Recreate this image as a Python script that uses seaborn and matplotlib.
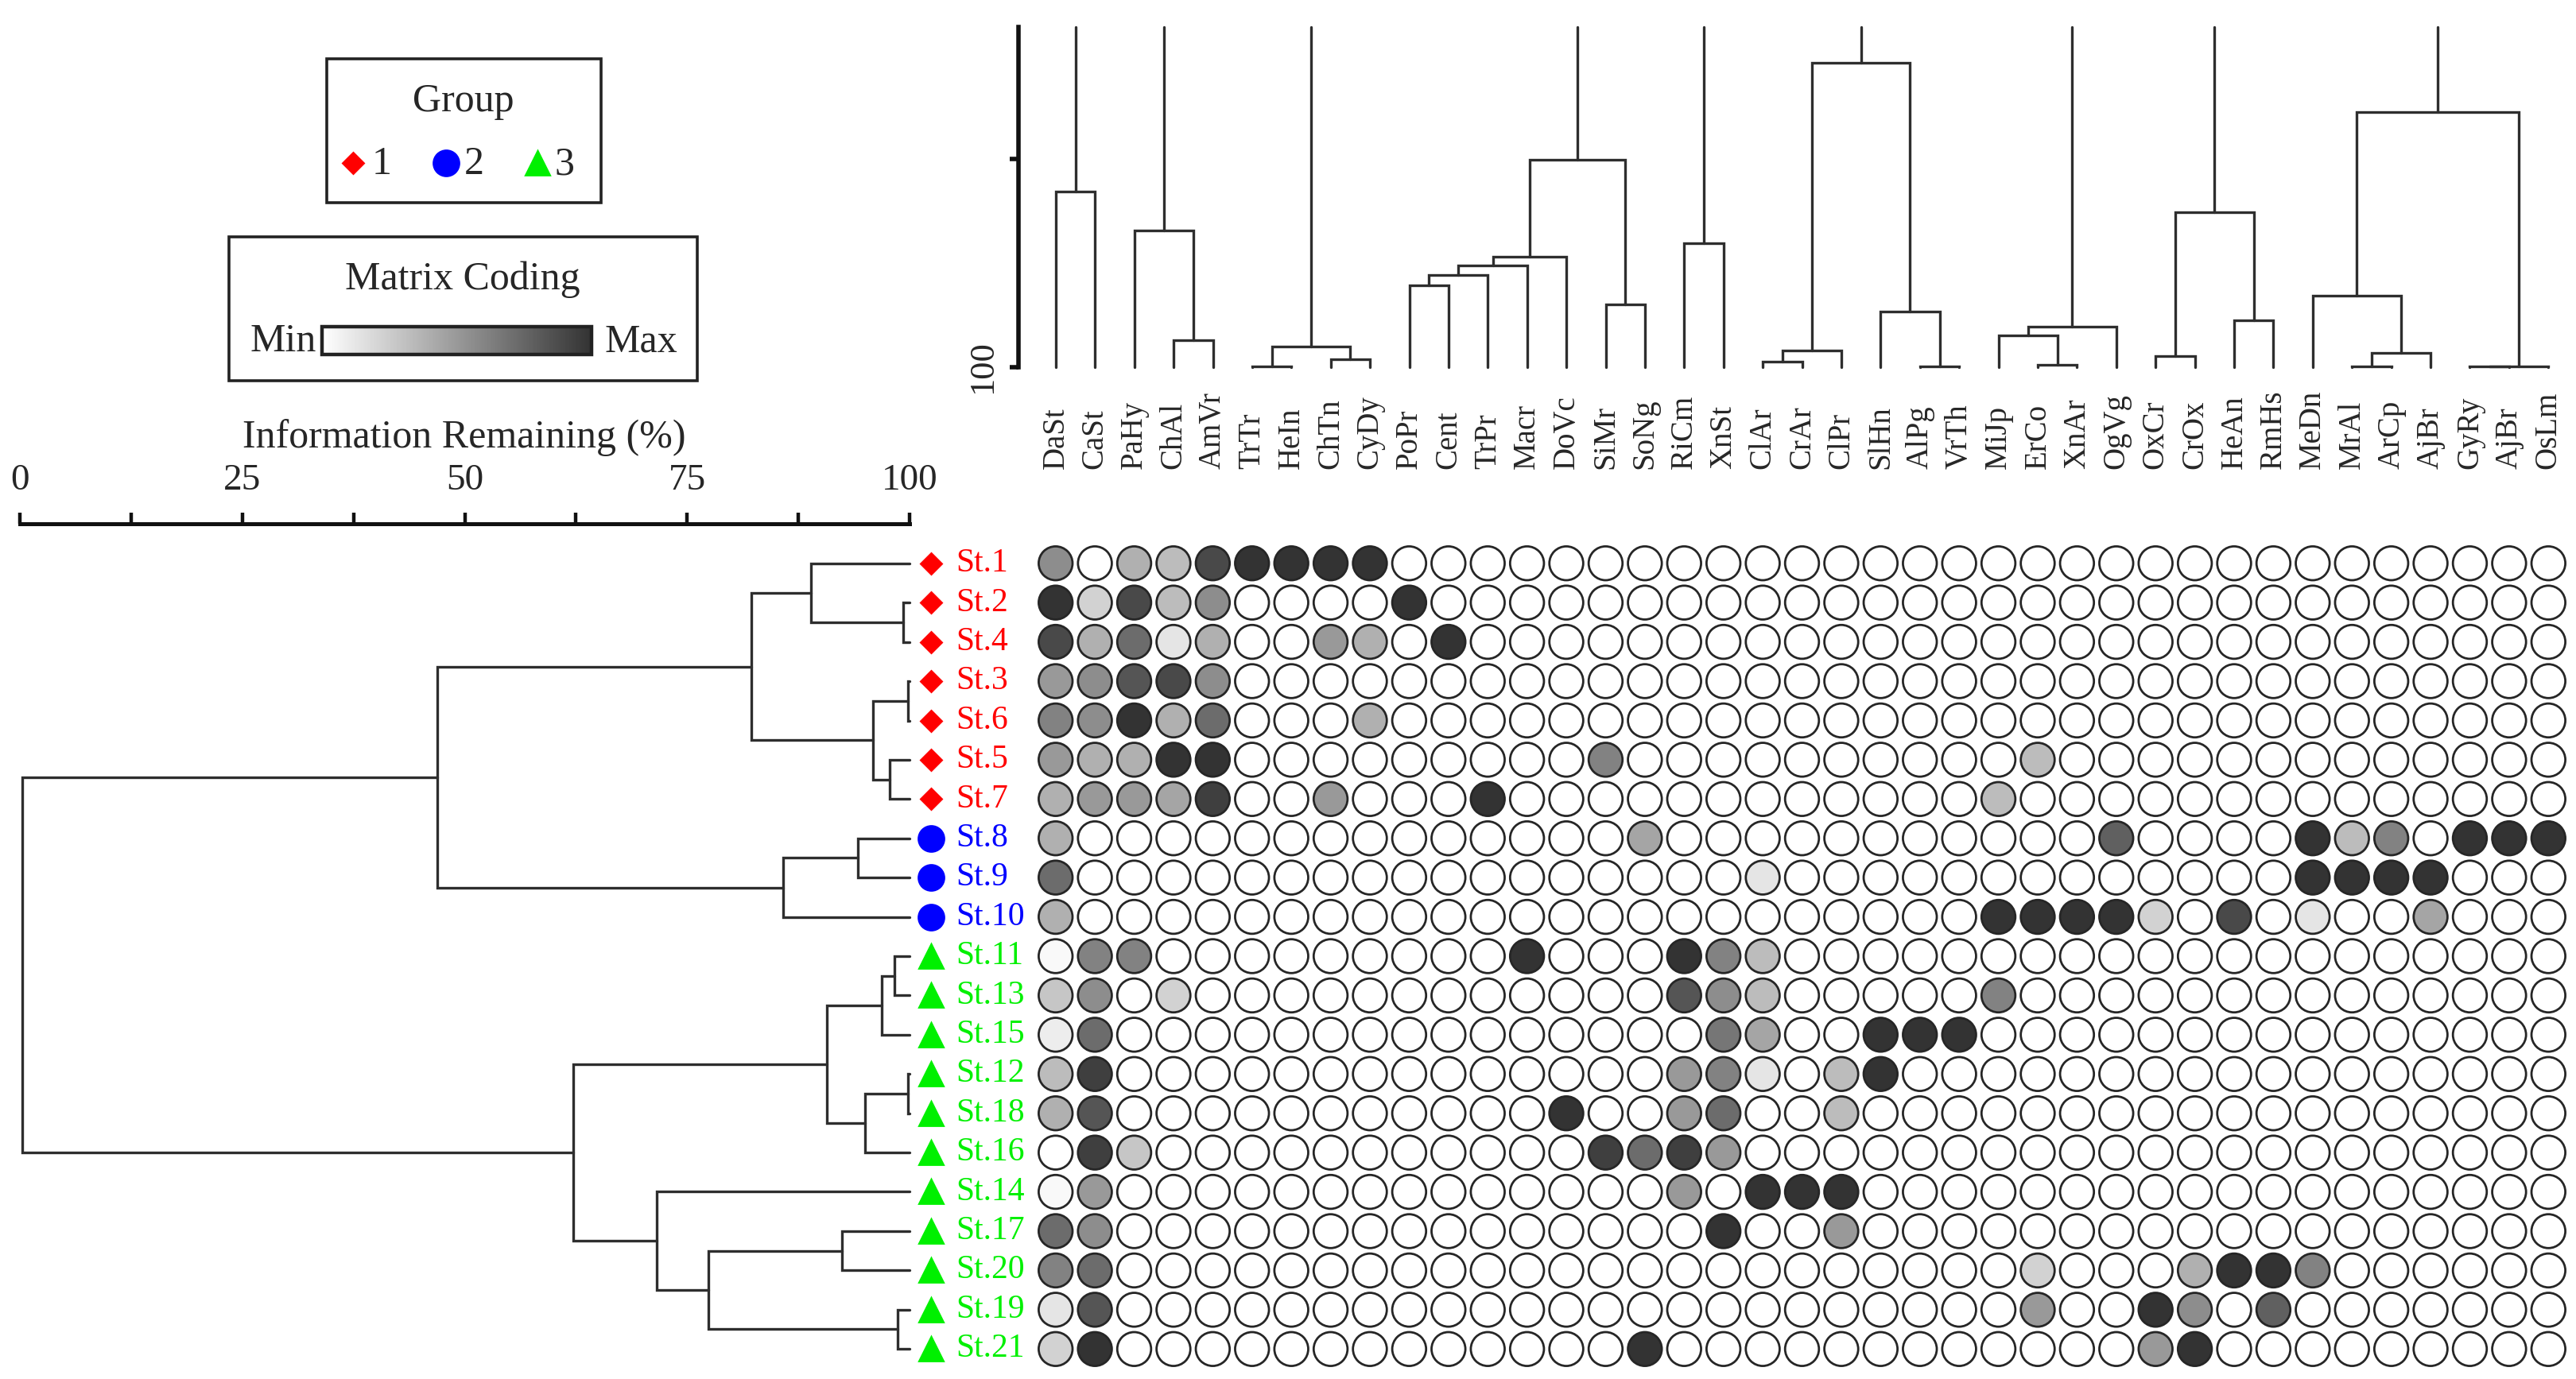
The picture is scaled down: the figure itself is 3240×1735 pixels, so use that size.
import numpy as np
import pandas as pd
import matplotlib
matplotlib.use("Agg")
import matplotlib.pyplot as plt
import matplotlib.transforms as mtransforms
import seaborn as sns
from matplotlib.colors import LinearSegmentedColormap, Normalize
from matplotlib.cm import ScalarMappable
from matplotlib.patches import Rectangle

# ---------- data ----------
species = ["DaSt", "CaSt", "PaHy", "ChAl", "AmVr", "TrTr", "HeIn", "ChTn", "CyDy", "PoPr",
           "Cent", "TrPr", "Macr", "DoVc", "SiMr", "SoNg", "RiCm", "XnSt", "ClAr", "CrAr",
           "ClPr", "SlHn", "AlPg", "VrTh", "MiJp", "ErCo", "XnAr", "OgVg", "OxCr", "CrOx",
           "HeAn", "RmHs", "MeDn", "MrAl", "ArCp", "AjBr", "GyRy", "AjBr", "OsLm"]

stations = ["St.1", "St.2", "St.4", "St.3", "St.6", "St.5", "St.7", "St.8", "St.9", "St.10",
            "St.11", "St.13", "St.15", "St.12", "St.18", "St.16", "St.14", "St.17", "St.20",
            "St.19", "St.21"]
station_group = [1, 1, 1, 1, 1, 1, 1, 2, 2, 2, 3, 3, 3, 3, 3, 3, 3, 3, 3, 3, 3]

# matrix coding, 0 = absent, 100 = max (one row per station, one column per species)
coding = [
    [56, 0, 39, 33, 89, 100, 100, 100, 100, 0,  0, 0, 0, 0, 0, 0, 0, 0, 0, 0,  0, 0, 0, 0, 0, 0, 0, 0, 0, 0,  0, 0, 0, 0, 0, 0, 0, 0, 0],
    [100, 22, 89, 33, 56, 0, 0, 0, 0, 100,  0, 0, 0, 0, 0, 0, 0, 0, 0, 0,  0, 0, 0, 0, 0, 0, 0, 0, 0, 0,  0, 0, 0, 0, 0, 0, 0, 0, 0],
    [89, 39, 72, 13, 39, 0, 0, 50, 39, 0,  100, 0, 0, 0, 0, 0, 0, 0, 0, 0,  0, 0, 0, 0, 0, 0, 0, 0, 0, 0,  0, 0, 0, 0, 0, 0, 0, 0, 0],
    [50, 56, 83, 89, 56, 0, 0, 0, 0, 0,  0, 0, 0, 0, 0, 0, 0, 0, 0, 0,  0, 0, 0, 0, 0, 0, 0, 0, 0, 0,  0, 0, 0, 0, 0, 0, 0, 0, 0],
    [61, 56, 100, 39, 72, 0, 0, 0, 39, 0,  0, 0, 0, 0, 0, 0, 0, 0, 0, 0,  0, 0, 0, 0, 0, 0, 0, 0, 0, 0,  0, 0, 0, 0, 0, 0, 0, 0, 0],
    [50, 39, 39, 100, 100, 0, 0, 0, 0, 0,  0, 0, 0, 0, 61, 0, 0, 0, 0, 0,  0, 0, 0, 0, 0, 33, 0, 0, 0, 0,  0, 0, 0, 0, 0, 0, 0, 0, 0],
    [39, 50, 50, 44, 94, 0, 0, 50, 0, 0,  0, 100, 0, 0, 0, 0, 0, 0, 0, 0,  0, 0, 0, 0, 33, 0, 0, 0, 0, 0,  0, 0, 0, 0, 0, 0, 0, 0, 0],
    [39, 0, 0, 0, 0, 0, 0, 0, 0, 0,  0, 0, 0, 0, 0, 44, 0, 0, 0, 0,  0, 0, 0, 0, 0, 0, 0, 78, 0, 0,  0, 0, 100, 33, 61, 0, 100, 100, 100],
    [72, 0, 0, 0, 0, 0, 0, 0, 0, 0,  0, 0, 0, 0, 0, 0, 0, 0, 13, 0,  0, 0, 0, 0, 0, 0, 0, 0, 0, 0,  0, 0, 100, 100, 100, 100, 0, 0, 0],
    [39, 0, 0, 0, 0, 0, 0, 0, 0, 0,  0, 0, 0, 0, 0, 0, 0, 0, 0, 0,  0, 0, 0, 0, 100, 100, 100, 100, 22, 0,  89, 0, 13, 0, 0, 44, 0, 0, 0],
    [3, 61, 61, 0, 0, 0, 0, 0, 0, 0,  0, 0, 100, 0, 0, 0, 100, 61, 33, 0,  0, 0, 0, 0, 0, 0, 0, 0, 0, 0,  0, 0, 0, 0, 0, 0, 0, 0, 0],
    [28, 56, 0, 22, 0, 0, 0, 0, 0, 0,  0, 0, 0, 0, 0, 0, 83, 56, 33, 0,  0, 0, 0, 0, 61, 0, 0, 0, 0, 0,  0, 0, 0, 0, 0, 0, 0, 0, 0],
    [9, 72, 0, 0, 0, 0, 0, 0, 0, 0,  0, 0, 0, 0, 0, 0, 0, 67, 44, 0,  0, 100, 100, 100, 0, 0, 0, 0, 0, 0,  0, 0, 0, 0, 0, 0, 0, 0, 0],
    [33, 94, 0, 0, 0, 0, 0, 0, 0, 0,  0, 0, 0, 0, 0, 0, 50, 61, 13, 0,  33, 100, 0, 0, 0, 0, 0, 0, 0, 0,  0, 0, 0, 0, 0, 0, 0, 0, 0],
    [39, 83, 0, 0, 0, 0, 0, 0, 0, 0,  0, 0, 0, 100, 0, 0, 50, 72, 0, 0,  33, 0, 0, 0, 0, 0, 0, 0, 0, 0,  0, 0, 0, 0, 0, 0, 0, 0, 0],
    [0, 94, 28, 0, 0, 0, 0, 0, 0, 0,  0, 0, 0, 0, 94, 72, 94, 50, 0, 0,  0, 0, 0, 0, 0, 0, 0, 0, 0, 0,  0, 0, 0, 0, 0, 0, 0, 0, 0],
    [3, 50, 0, 0, 0, 0, 0, 0, 0, 0,  0, 0, 0, 0, 0, 0, 50, 0, 100, 100,  100, 0, 0, 0, 0, 0, 0, 0, 0, 0,  0, 0, 0, 0, 0, 0, 0, 0, 0],
    [72, 56, 0, 0, 0, 0, 0, 0, 0, 0,  0, 0, 0, 0, 0, 0, 0, 100, 0, 0,  50, 0, 0, 0, 0, 0, 0, 0, 0, 0,  0, 0, 0, 0, 0, 0, 0, 0, 0],
    [61, 72, 0, 0, 0, 0, 0, 0, 0, 0,  0, 0, 0, 0, 0, 0, 0, 0, 0, 0,  0, 0, 0, 0, 0, 22, 0, 0, 0, 39,  100, 100, 61, 0, 0, 0, 0, 0, 0],
    [13, 83, 0, 0, 0, 0, 0, 0, 0, 0,  0, 0, 0, 0, 0, 0, 0, 0, 0, 0,  0, 0, 0, 0, 0, 50, 0, 0, 100, 56,  0, 78, 0, 0, 0, 0, 0, 0, 0],
    [22, 100, 0, 0, 0, 0, 0, 0, 0, 0,  0, 0, 0, 0, 0, 100, 0, 0, 0, 0,  0, 0, 0, 0, 0, 0, 0, 0, 50, 100,  0, 0, 0, 0, 0, 0, 0, 0, 0],
]
for row in coding:
    assert len(row) == len(species)

# station dendrogram: (left, right, information remaining %)
group1 = (("St.1", ("St.2", "St.4", 99.3), 88.9),
          (("St.3", "St.6", 99.8), ("St.5", "St.7", 97.8), 95.9), 82.2)
group2 = (("St.8", "St.9", 94.2), "St.10", 85.8)
group3a = ((("St.11", "St.13", 98.3), "St.15", 96.9),
           (("St.12", "St.18", 99.8), "St.16", 95.0), 90.7)
group3b = ("St.14", (("St.17", "St.20", 92.4), ("St.19", "St.21", 98.7), 77.4), 71.6)
station_tree = ((group1, group2, 46.9), (group3a, group3b, 62.2), 0.3)

# species dendrogram (leaves = column index), only the visible clusters
species_trees = [
    (0, 1, 57.8),
    (2, (3, 4, 93.5), 67.2),
    ((5, 6, 99.8), (7, 8, 98.0), 95.0),
    (((((9, 10, 80.3), 11, 77.8), 12, 75.6), 13, 73.5), (14, 15, 84.9), 50.1),
    (16, 17, 70.3),
    (((18, 19, 98.6), 20, 96.0), (21, (22, 23, 99.8), 86.7), 26.8),
    ((24, (25, 26, 99.4), 92.4), 27, 90.3),
    ((28, 29, 97.3), (30, 31, 88.7), 62.7),
    ((32, ((33, 34, 99.8), 35, 96.5), 82.8), ((36, 37, 99.8), 38, 99.8), 38.7),
]

# ---------- style ----------
sns.set_theme(style="ticks")
plt.rcParams["font.family"] = ["Liberation Serif", "DejaVu Serif"]

LINE = "#2e2e2e"
LW = 1.2
group_colors = {1: "#ff0000", 2: "#0000ff", 3: "#00f000"}
group_markers = {1: ("D", 6.8), 2: ("o", 11.5), 3: ("^", 10.5)}
grey = LinearSegmentedColormap.from_list("coding", ["#ffffff", "#333333"])

W, H, DPI = 3240, 1735, 200
fig = plt.figure(figsize=(W / DPI, H / DPI), dpi=DPI)


def box(x0, y0, x1, y1):
    return [x0 / W, 1 - y1 / H, (x1 - x0) / W, (y1 - y0) / H]


def draw_node(ax, node, pos_of, horizontal):
    if not isinstance(node, tuple):
        return pos_of(node), 100.0
    left, right, h = node
    p1, h1 = draw_node(ax, left, pos_of, horizontal)
    p2, h2 = draw_node(ax, right, pos_of, horizontal)
    hs = [h1, h, h, h2]
    ps = [p1, p1, p2, p2]
    if horizontal:
        ax.plot(hs, ps, color=LINE, lw=LW, clip_on=False, solid_joinstyle="miter")
    else:
        ax.plot(ps, hs, color=LINE, lw=LW, clip_on=False, solid_joinstyle="miter")
    return (p1 + p2) / 2, h


# background axes for legends (pixel coordinates)
ax_bg = fig.add_axes([0, 0, 1, 1])
ax_bg.set_xlim(0, W)
ax_bg.set_ylim(H, 0)
ax_bg.axis("off")

# ---------- Group legend ----------
ax_bg.add_patch(Rectangle((411, 74), 345, 181, fill=False, ec="#222222", lw=1.3))
ax_bg.text(583, 128, "Group", ha="center", va="center", fontsize=18)
for g, (mx, tx) in zip([1, 2, 3], [(444, 468), (561, 584), (676, 698)]):
    m, ms = group_markers[g]
    ax_bg.plot(mx, 205, marker=m, ms=ms, color=group_colors[g], ls="none")
    ax_bg.text(tx, 207, str(g), ha="left", va="center", fontsize=18)

# ---------- Matrix coding legend ----------
ax_bg.add_patch(Rectangle((288, 298), 589, 181, fill=False, ec="#222222", lw=1.3))
ax_bg.text(582, 352, "Matrix Coding", ha="center", va="center", fontsize=18)
ax_bg.text(398, 430, "Min", ha="right", va="center", fontsize=18)
ax_bg.text(761, 430, "Max", ha="left", va="center", fontsize=18)
cax = fig.add_axes(box(405, 411, 744, 446))
cb = fig.colorbar(ScalarMappable(norm=Normalize(0, 100), cmap=grey), cax=cax,
                  orientation="horizontal")
cb.set_ticks([])
cb.outline.set_linewidth(1.6)
cb.outline.set_edgecolor("#222222")

ax_bg.text(584, 551, "Information Remaining (%)", ha="center", va="center", fontsize=18)

# ---------- station dendrogram ----------
ax_l = fig.add_axes(box(25, 659, 1144, 1722))
row_pos = {s: i for i, s in enumerate(stations)}
draw_node(ax_l, station_tree, row_pos.get, horizontal=True)
ax_l.set_xlim(0, 100)
ax_l.set_ylim(20.506, -1.012)
for side in ["left", "right", "bottom"]:
    ax_l.spines[side].set_visible(False)
ax_l.spines["top"].set_linewidth(1.8)
ax_l.spines["top"].set_color("#111111")
ax_l.xaxis.tick_top()
ax_l.set_xticks([0, 25, 50, 75, 100])
ax_l.set_xticklabels(["0", "25", "50", "75", "100"])
ax_l.set_xticks([12.5, 37.5, 62.5, 87.5], minor=True)
ax_l.tick_params(axis="x", which="both", direction="out", length=5, width=1.6,
                 top=True, bottom=False, labelsize=17, pad=7, color="#111111")
ax_l.set_yticks([])

for i, (s, g) in enumerate(zip(stations, station_group)):
    m, ms = group_markers[g]
    ax_l.plot(102.4, i, marker=m, ms=ms, color=group_colors[g], ls="none", clip_on=False)
    ax_l.text(105.2, i, s, color=group_colors[g], fontsize=15, ha="left",
              va="center", clip_on=False)

# ---------- species dendrogram ----------
TOP = 18.3
ax_t = fig.add_axes(box(1281, 34, 3230, 462))
for tree in species_trees:
    p, h = draw_node(ax_t, tree, float, horizontal=False)
    ax_t.plot([p, p], [h, TOP], color=LINE, lw=LW, clip_on=False)
ax_t.set_xlim(-0.95, 38.5)
ax_t.set_ylim(100, TOP)
for side in ["top", "right", "bottom"]:
    ax_t.spines[side].set_visible(False)
ax_t.spines["left"].set_linewidth(2.0)
ax_t.spines["left"].set_color("#111111")
ax_t.set_xticks([])
ax_t.set_yticks([50, 100])
ax_t.set_yticklabels(["", "100"], rotation=90, va="center")
ax_t.tick_params(axis="y", direction="out", length=4, width=2.0, left=True,
                 labelsize=16, pad=5, color="#111111")

lab_tr = mtransforms.blended_transform_factory(ax_t.transData, fig.transFigure)
for i, name in enumerate(species):
    ax_t.text(i, 1 - 590 / H, name, transform=lab_tr, rotation=90, ha="center",
              va="bottom", fontsize=14)

# ---------- matrix ----------
cells = pd.DataFrame(
    [(i, j, v) for i, row in enumerate(coding) for j, v in enumerate(row)],
    columns=["row", "col", "value"],
)
ax_m = fig.add_axes(box(1303, 684, 3230, 1722))
sns.scatterplot(data=cells, x="col", y="row", hue="value", hue_norm=(0, 100),
                palette=grey, s=235, edgecolor="#262626", linewidth=1.0,
                legend=False, ax=ax_m, clip_on=False)
ax_m.set_xlim(-0.5, 38.5)
ax_m.set_ylim(20.5, -0.5)
ax_m.axis("off")

fig.savefig("out.png", dpi=DPI)
